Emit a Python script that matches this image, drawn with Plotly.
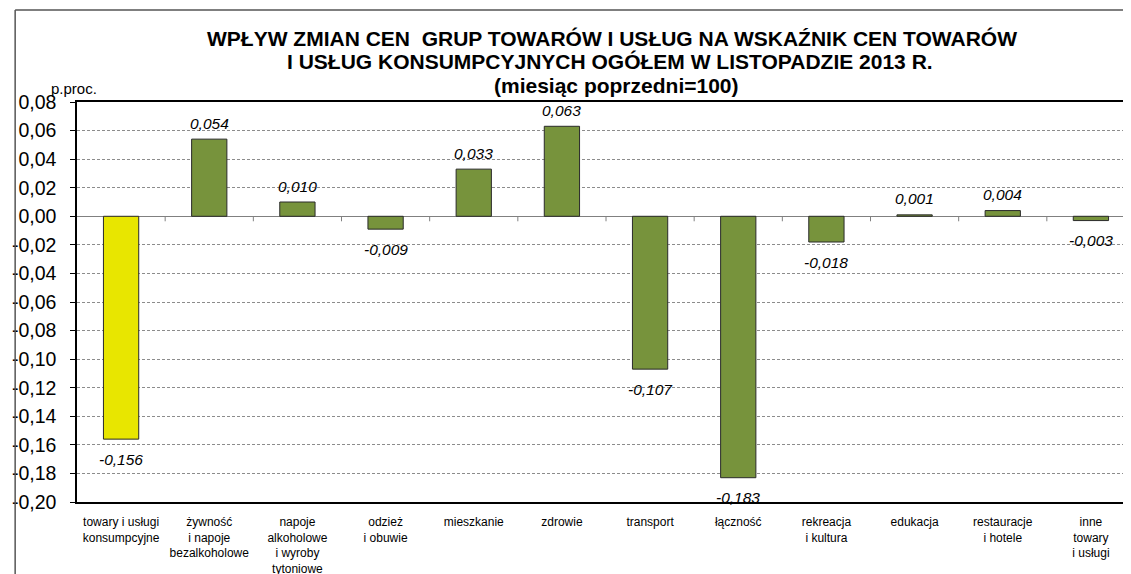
import plotly.graph_objects as go

categories = [
    "towary i usługi<br>konsumpcyjne",
    "żywność<br>i napoje<br>bezalkoholowe",
    "napoje<br>alkoholowe<br>i wyroby<br>tytoniowe",
    "odzież<br>i obuwie",
    "mieszkanie",
    "zdrowie",
    "transport",
    "łączność",
    "rekreacja<br>i kultura",
    "edukacja",
    "restauracje<br>i hotele",
    "inne<br>towary<br>i usługi",
]
values = [-0.156, 0.054, 0.010, -0.009, 0.033, 0.063, -0.107, -0.183, -0.018, 0.001, 0.004, -0.003]
y_tick_vals = [0.08, 0.06, 0.04, 0.02, 0.00, -0.02, -0.04, -0.06, -0.08, -0.10,
               -0.12, -0.14, -0.16, -0.18, -0.20]
y_tick_text = ["0,08", "0,06", "0,04", "0,02", "0,00", "-0,02", "-0,04", "-0,06", "-0,08",
               "-0,10", "-0,12", "-0,14", "-0,16", "-0,18", "-0,20"]
title_lines = [
    "WPŁYW ZMIAN CEN  GRUP TOWARÓW I USŁUG NA WSKAŹNIK CEN TOWARÓW",
    "I USŁUG KONSUMPCYJNYCH OGÓŁEM W LISTOPADZIE 2013 R.",
    "(miesiąc poprzedni=100)",
]
unit_label = "p.proc."

# the page body adds an 8px margin; lay out in figure coordinates
OFF = 8
W, H = 1131, 574
PLOT_L, PLOT_R, PLOT_T, PLOT_B = 71 - OFF, 1135 - OFF, 102 - OFF, 502 - OFF
ML, MR, MT, MB = PLOT_L, W - PLOT_R, PLOT_T, H - PLOT_B
PW = W - ML - MR
PH = H - MT - MB

def px_x(px):  # reference-screen x -> paper
    return (px - OFF - ML) / PW

def px_y(py):  # reference-screen y -> paper
    return (H - MB - (py - OFF)) / PH

FONT = "Liberation Sans, Arial, sans-serif"
YELLOW = "#E8E600"
GREEN = "#77933C"

idx = list(range(len(categories)))
colors = [YELLOW] + [GREEN] * (len(categories) - 1)

fig = go.Figure()
fig.add_trace(go.Bar(
    x=idx, y=values, width=0.4,
    marker=dict(color=colors, line=dict(color="#2a2a2a", width=1)),
    hoverinfo="skip",
))

annotations = []
for i, v in zip(idx, values):
    txt = f"{v:.3f}".replace(".", ",")
    annotations.append(dict(
        x=i, y=v, xref="x", yref="y", text="<i>" + txt + "</i>", showarrow=False,
        font=dict(family=FONT, size=15.5, color="#000"),
        yshift=16 if v >= 0 else -20, yanchor="middle",
    ))

title_pos = [(609, 38.5, 21), (607, 61.5, 21), (614, 85, 21)]
for line, (cx, cy, fs) in zip(title_lines, title_pos):
    annotations.append(dict(
        x=px_x(cx), y=px_y(cy), xref="paper", yref="paper", text="<b>" + line + "</b>",
        showarrow=False, xanchor="center", yanchor="middle",
        font=dict(family=FONT, size=fs, color="#000"),
    ))
annotations.append(dict(
    x=px_x(68), y=px_y(88), xref="paper", yref="paper", text=unit_label,
    showarrow=False, xanchor="center", yanchor="middle",
    font=dict(family=FONT, size=15, color="#000"),
))

shapes = []
# category tick marks on the zero line
for i in idx:
    shapes.append(dict(
        type="line", xref="x", yref="y", x0=i + 0.5, x1=i + 0.5,
        ysizemode="pixel", yanchor=0, y0=0, y1=-5,
        line=dict(color="#808080", width=1),
    ))
# outer chart border (left and top visible)
shapes.append(dict(type="line", xref="paper", yref="paper",
                   x0=px_x(8.8), x1=px_x(8.8), y0=px_y(10), y1=px_y(H + 20),
                   line=dict(color="#555", width=1.5)))
shapes.append(dict(type="line", xref="paper", yref="paper",
                   x0=px_x(8.8), x1=px_x(W + 20), y0=px_y(10), y1=px_y(10),
                   line=dict(color="#555", width=1.5)))

fig.update_layout(
    width=W, height=H,
    margin=dict(l=ML, r=MR, t=MT, b=MB, pad=0),
    paper_bgcolor="white", plot_bgcolor="white",
    showlegend=False,
    bargap=0.6,
    annotations=annotations,
    shapes=shapes,
    font=dict(family=FONT, color="#000"),
)
fig.update_xaxes(
    range=[-0.5, 11.5],
    tickmode="array", tickvals=idx, ticktext=categories,
    tickfont=dict(family=FONT, size=12, color="#000"),
    ticks="", showgrid=False, zeroline=False,
    showline=True, mirror=True, linecolor="#000", linewidth=1.5,
    ticklabelstandoff=8,
)
fig.update_yaxes(
    range=[-0.20, 0.08],
    tickmode="array", tickvals=y_tick_vals, ticktext=y_tick_text,
    tickfont=dict(family=FONT, size=19.5, color="#000"),
    ticks="outside", ticklen=5, tickcolor="#000", tickwidth=1,
    showline=True, linecolor="#000", linewidth=1.5,
    showgrid=True, gridcolor="#8c8c8c", gridwidth=1, griddash="3px,2px",
    zeroline=True, zerolinecolor="#808080", zerolinewidth=1,
    ticklabelstandoff=10,
)

fig.write_html("out.html")
